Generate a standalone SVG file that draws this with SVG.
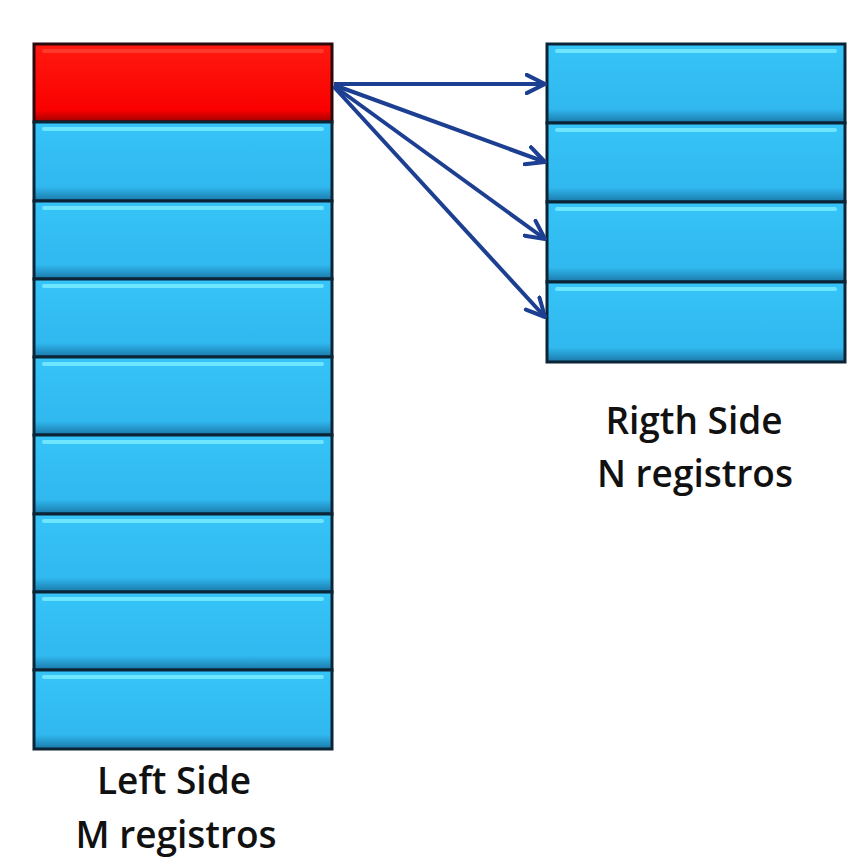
<svg xmlns="http://www.w3.org/2000/svg" width="849" height="862" viewBox="0 0 849 862">
<style>
.cell{fill:url(#blue);stroke:#0b2436;stroke-width:3}
.red{fill:url(#redg);stroke:#2a0a0a;stroke-width:3}
.hi{stroke:#6fe6ff;stroke-width:4;stroke-linecap:round}
.hir{stroke:#ff3a2a;stroke-width:4;stroke-linecap:round}
.conn{stroke:#1c3f92;stroke-width:4;fill:none;marker-end:url(#arr)}
.lbl{font-family:"Open Sans","Noto Sans","Liberation Sans",sans-serif;font-size:37px;font-weight:600;fill:#111;text-anchor:middle}
</style>
<defs>
<linearGradient id="blue" x1="0" y1="0" x2="0" y2="1">
<stop offset="0" stop-color="#36c4f8"/>
<stop offset="0.82" stop-color="#30b8ef"/>
<stop offset="1" stop-color="#1a78a8"/>
</linearGradient>
<linearGradient id="redg" x1="0" y1="0" x2="0" y2="1">
<stop offset="0" stop-color="#ff1a10"/>
<stop offset="0.85" stop-color="#fa0000"/>
<stop offset="1" stop-color="#a00000"/>
</linearGradient>
<marker id="arr" viewBox="0 0 12 12" refX="11" refY="6" markerWidth="5.5" markerHeight="5.5" markerUnits="strokeWidth" orient="auto">
<path d="M1,1 L11,6 L1,11" fill="none" stroke="#1c3f92" stroke-width="2.2" stroke-linejoin="round" stroke-linecap="round"/>
</marker>
</defs>
<rect width="849" height="862" fill="#fff"/>
<g id="left-side">
<rect x="34" y="44" width="298" height="705" fill="#0b2436"/>
<g id="L1"><rect class="red" x="34" y="44" width="298" height="78"/><line class="hir" x1="44" y1="51" x2="322" y2="51"/></g>
<g id="L2"><rect class="cell" x="34" y="122" width="298" height="79"/><line class="hi" x1="44" y1="129" x2="322" y2="129"/></g>
<g id="L3"><rect class="cell" x="34" y="201" width="298" height="78"/><line class="hi" x1="44" y1="208" x2="322" y2="208"/></g>
<g id="L4"><rect class="cell" x="34" y="279" width="298" height="78"/><line class="hi" x1="44" y1="286" x2="322" y2="286"/></g>
<g id="L5"><rect class="cell" x="34" y="357" width="298" height="78"/><line class="hi" x1="44" y1="364" x2="322" y2="364"/></g>
<g id="L6"><rect class="cell" x="34" y="435" width="298" height="79"/><line class="hi" x1="44" y1="442" x2="322" y2="442"/></g>
<g id="L7"><rect class="cell" x="34" y="514" width="298" height="78"/><line class="hi" x1="44" y1="521" x2="322" y2="521"/></g>
<g id="L8"><rect class="cell" x="34" y="592" width="298" height="78"/><line class="hi" x1="44" y1="599" x2="322" y2="599"/></g>
<g id="L9"><rect class="cell" x="34" y="670" width="298" height="79"/><line class="hi" x1="44" y1="677" x2="322" y2="677"/></g>
</g>
<g id="right-side">
<rect x="547" y="44" width="298" height="318" fill="#0b2436"/>
<g id="R1"><rect class="cell" x="547" y="44" width="298" height="79"/><line class="hi" x1="557" y1="51" x2="835" y2="51"/></g>
<g id="R2"><rect class="cell" x="547" y="123" width="298" height="79"/><line class="hi" x1="557" y1="130" x2="835" y2="130"/></g>
<g id="R3"><rect class="cell" x="547" y="202" width="298" height="80"/><line class="hi" x1="557" y1="209" x2="835" y2="209"/></g>
<g id="R4"><rect class="cell" x="547" y="282" width="298" height="80"/><line class="hi" x1="557" y1="289" x2="835" y2="289"/></g>
</g>
<g id="connectors">
<line class="conn" x1="334" y1="84" x2="545" y2="84"/>
<line class="conn" x1="334" y1="85" x2="545" y2="162"/>
<line class="conn" x1="334" y1="86" x2="545" y2="239"/>
<line class="conn" x1="334" y1="87" x2="545" y2="317"/>
</g>
<g id="labels">
<text class="lbl" x="174" y="794">Left Side</text>
<text class="lbl" x="176" y="848">M registros</text>
<text class="lbl" x="694" y="434">Rigth Side</text>
<text class="lbl" x="695" y="487">N registros</text>
</g>
</svg>
